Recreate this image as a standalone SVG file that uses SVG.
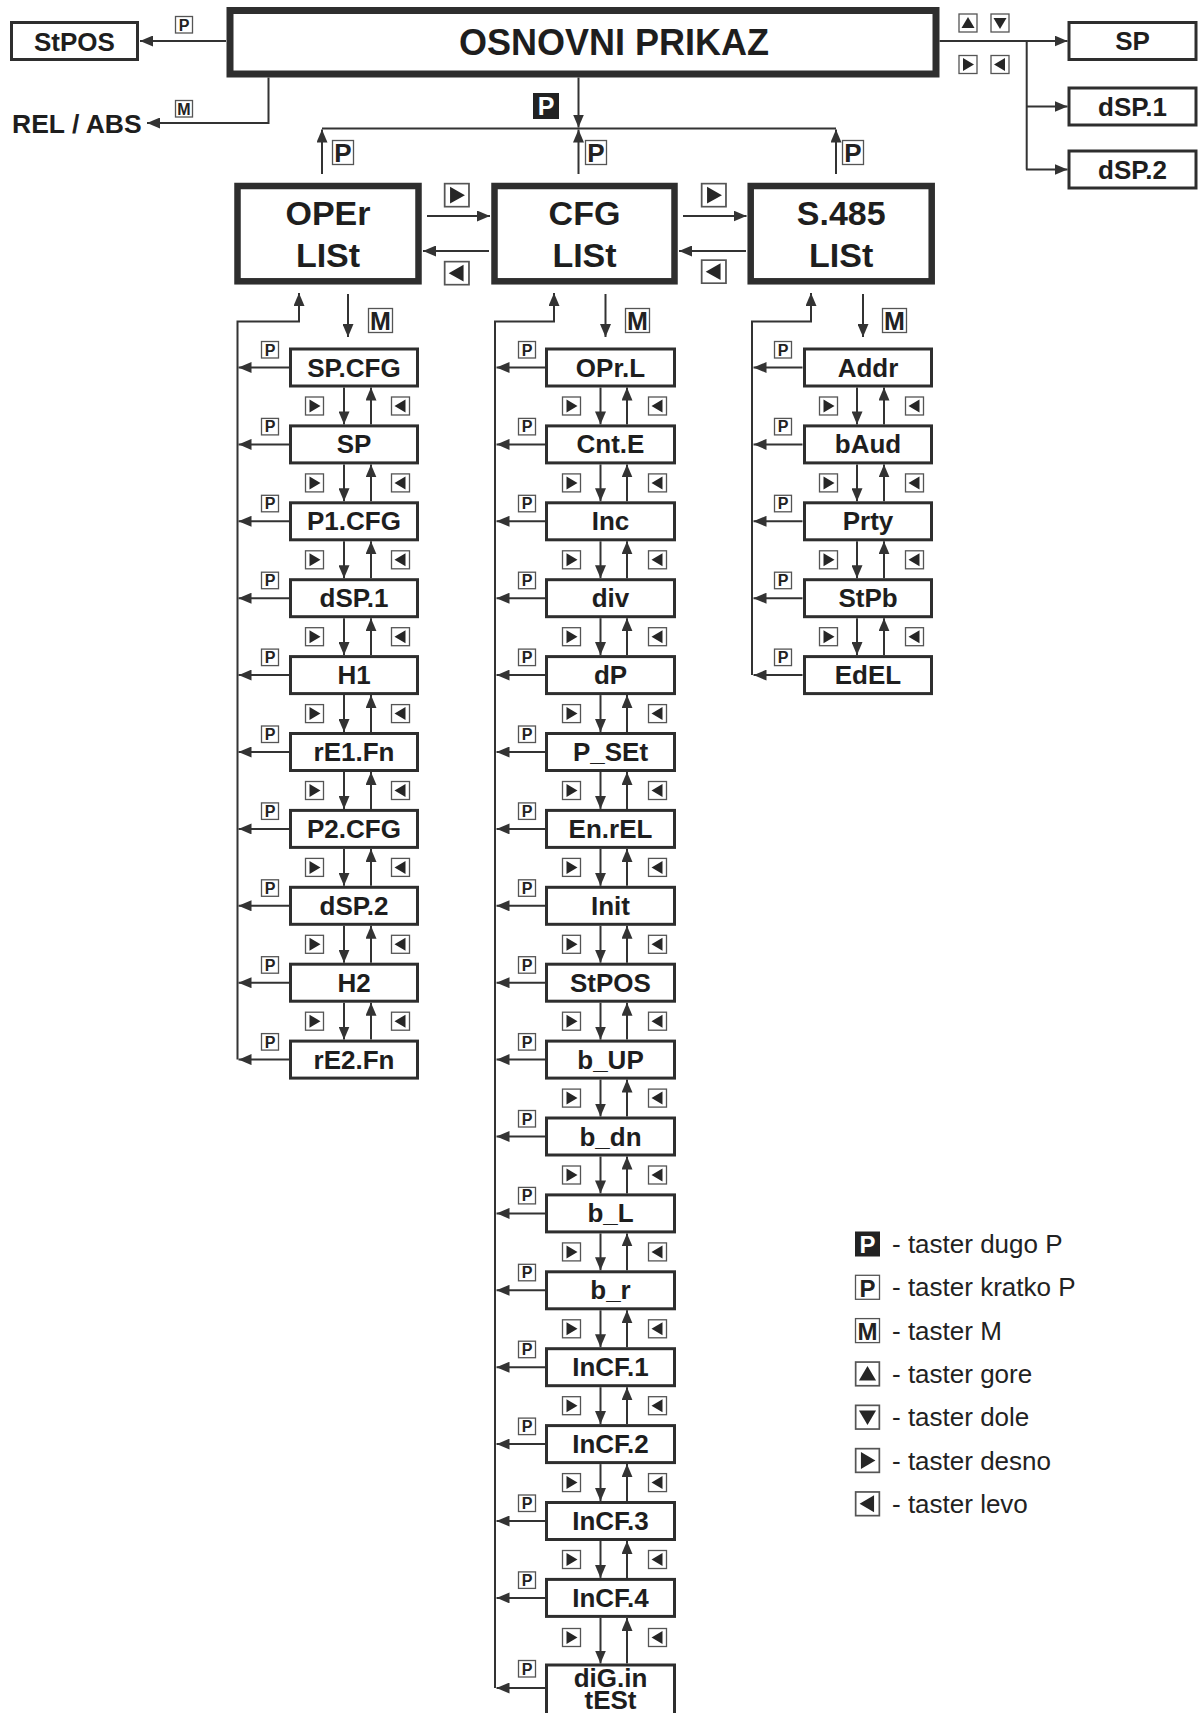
<svg xmlns="http://www.w3.org/2000/svg" width="1198" height="1713" viewBox="0 0 1198 1713">
<style>
.c{fill:none;stroke:#333;stroke-width:2;marker-end:url(#ah)}
.l{fill:none;stroke:#333;stroke-width:2}
.bx{fill:#fff;stroke:#2e2e2e;stroke-width:3}
.bl{fill:#fff;stroke:#2e2e2e;stroke-width:6.5}
.it{font-family:"Liberation Sans",Arial,sans-serif;font-weight:bold;font-size:26px;fill:#1e1e1e;text-anchor:middle}
.big{font-family:"Liberation Sans",Arial,sans-serif;font-weight:bold;font-size:34px;fill:#1e1e1e;text-anchor:middle}
.lg{font-family:"Liberation Sans",Arial,sans-serif;font-size:26px;fill:#222}
.ib{fill:#fff;stroke:#555;stroke-width:1.3}
.tr{fill:#262626}
.kt{font-family:"Liberation Sans",Arial,sans-serif;font-weight:bold;fill:#222;text-anchor:middle}
</style>
<defs>
<marker id="ah" viewBox="0 0 13 11" refX="13" refY="5.5" markerWidth="13" markerHeight="11" markerUnits="userSpaceOnUse" orient="auto"><path d="M0,0 L13,5.5 L0,11 Z" fill="#333"/></marker>
<g id="ir"><rect x="0.5" y="0.5" width="18" height="18" class="ib"/><path d="M4.5,3 L15.5,9.5 L4.5,16 Z" class="tr"/></g>
<g id="il"><rect x="0.5" y="0.5" width="18" height="18" class="ib"/><path d="M14.5,3 L3.5,9.5 L14.5,16 Z" class="tr"/></g>
<g id="iu"><rect x="0.5" y="0.5" width="18" height="18" class="ib"/><path d="M3,14.5 L9.5,3.5 L16,14.5 Z" class="tr"/></g>
<g id="idn"><rect x="0.5" y="0.5" width="18" height="18" class="ib"/><path d="M3,4.5 L9.5,15.5 L16,4.5 Z" class="tr"/></g>
<g id="ps"><rect x="0.5" y="0.5" width="17" height="16.5" class="ib"/><text x="9" y="14.5" class="kt" font-size="16">P</text></g>
<g id="ms"><rect x="0.5" y="0.5" width="17" height="16.5" class="ib"/><text x="9" y="14.5" class="kt" font-size="16">M</text></g>
<g id="pl"><rect x="0.5" y="0.5" width="21" height="24" class="ib"/><text x="11" y="21.5" class="kt" font-size="26">P</text></g>
<g id="mb"><rect x="0.5" y="0.5" width="24" height="24" class="ib"/><text x="12.5" y="21.5" class="kt" font-size="25">M</text></g>
</defs>
<rect width="1198" height="1713" fill="#fff"/>

<!-- top nodes -->
<g id="n-osnovni"><rect x="230" y="10.5" width="706" height="63.5" fill="#fff" stroke="#2e2e2e" stroke-width="7"/><text x="459" y="54.5" font-family="Liberation Sans, Arial, sans-serif" font-weight="bold" font-size="36" fill="#1e1e1e">OSNOVNI PRIKAZ</text></g>
<g id="n-stpos-top"><rect x="11.5" y="22.5" width="126" height="37" class="bx"/><text x="74.5" y="50.5" class="it">StPOS</text></g>
<g id="n-relabs"><text x="12" y="133" font-family="Liberation Sans, Arial, sans-serif" font-weight="bold" font-size="26.5" fill="#1e1e1e">REL / ABS</text></g>
<g id="n-sp-top"><rect x="1069" y="22.5" width="127" height="37" class="bx"/><text x="1132.5" y="50" class="it" font-size="25">SP</text></g>
<g id="n-dsp1-top"><rect x="1069" y="88" width="127" height="37" class="bx"/><text x="1132.5" y="115.5" class="it" font-size="25">dSP.1</text></g>
<g id="n-dsp2-top"><rect x="1069" y="151" width="127" height="37" class="bx"/><text x="1132.5" y="178.5" class="it" font-size="25">dSP.2</text></g>

<!-- list nodes -->
<g id="n-oper"><rect x="237.5" y="186" width="181" height="95.3" class="bl"/><text x="328" y="225" class="big">OPEr</text><text x="328" y="267" class="big">LISt</text></g>
<g id="n-cfg"><rect x="494.5" y="186" width="180" height="95.3" class="bl"/><text x="584.5" y="225" class="big">CFG</text><text x="584.5" y="267" class="big">LISt</text></g>
<g id="n-s485"><rect x="750.7" y="186" width="181" height="95.3" class="bl"/><text x="841.2" y="225" class="big">S.485</text><text x="841.2" y="267" class="big">LISt</text></g>

<!-- column A -->
<g id="n-a0"><rect x="290.5" y="349" width="127" height="37" class="bx"/><text x="354" y="376.5" class="it">SP.CFG</text></g>
<g id="n-a1"><rect x="290.5" y="425.9" width="127" height="37" class="bx"/><text x="354" y="453.4" class="it">SP</text></g>
<g id="n-a2"><rect x="290.5" y="502.8" width="127" height="37" class="bx"/><text x="354" y="530.3" class="it">P1.CFG</text></g>
<g id="n-a3"><rect x="290.5" y="579.7" width="127" height="37" class="bx"/><text x="354" y="607.2" class="it">dSP.1</text></g>
<g id="n-a4"><rect x="290.5" y="656.6" width="127" height="37" class="bx"/><text x="354" y="684.1" class="it">H1</text></g>
<g id="n-a5"><rect x="290.5" y="733.5" width="127" height="37" class="bx"/><text x="354" y="761" class="it">rE1.Fn</text></g>
<g id="n-a6"><rect x="290.5" y="810.4" width="127" height="37" class="bx"/><text x="354" y="837.9" class="it">P2.CFG</text></g>
<g id="n-a7"><rect x="290.5" y="887.3" width="127" height="37" class="bx"/><text x="354" y="914.8" class="it">dSP.2</text></g>
<g id="n-a8"><rect x="290.5" y="964.2" width="127" height="37" class="bx"/><text x="354" y="991.7" class="it">H2</text></g>
<g id="n-a9"><rect x="290.5" y="1041.1" width="127" height="37" class="bx"/><text x="354" y="1068.6" class="it">rE2.Fn</text></g>

<!-- column B -->
<g id="n-b0"><rect x="546.5" y="349" width="128" height="37" class="bx"/><text x="610.5" y="376.5" class="it">OPr.L</text></g>
<g id="n-b1"><rect x="546.5" y="425.9" width="128" height="37" class="bx"/><text x="610.5" y="453.4" class="it">Cnt.E</text></g>
<g id="n-b2"><rect x="546.5" y="502.8" width="128" height="37" class="bx"/><text x="610.5" y="530.3" class="it">Inc</text></g>
<g id="n-b3"><rect x="546.5" y="579.7" width="128" height="37" class="bx"/><text x="610.5" y="607.2" class="it">div</text></g>
<g id="n-b4"><rect x="546.5" y="656.6" width="128" height="37" class="bx"/><text x="610.5" y="684.1" class="it">dP</text></g>
<g id="n-b5"><rect x="546.5" y="733.5" width="128" height="37" class="bx"/><text x="610.5" y="761" class="it">P_SEt</text></g>
<g id="n-b6"><rect x="546.5" y="810.4" width="128" height="37" class="bx"/><text x="610.5" y="837.9" class="it">En.rEL</text></g>
<g id="n-b7"><rect x="546.5" y="887.3" width="128" height="37" class="bx"/><text x="610.5" y="914.8" class="it">Init</text></g>
<g id="n-b8"><rect x="546.5" y="964.2" width="128" height="37" class="bx"/><text x="610.5" y="991.7" class="it">StPOS</text></g>
<g id="n-b9"><rect x="546.5" y="1041.1" width="128" height="37" class="bx"/><text x="610.5" y="1068.6" class="it">b_UP</text></g>
<g id="n-b10"><rect x="546.5" y="1118" width="128" height="37" class="bx"/><text x="610.5" y="1145.5" class="it">b_dn</text></g>
<g id="n-b11"><rect x="546.5" y="1194.9" width="128" height="37" class="bx"/><text x="610.5" y="1222.4" class="it">b_L</text></g>
<g id="n-b12"><rect x="546.5" y="1271.8" width="128" height="37" class="bx"/><text x="610.5" y="1299.3" class="it">b_r</text></g>
<g id="n-b13"><rect x="546.5" y="1348.7" width="128" height="37" class="bx"/><text x="610.5" y="1376.2" class="it">InCF.1</text></g>
<g id="n-b14"><rect x="546.5" y="1425.6" width="128" height="37" class="bx"/><text x="610.5" y="1453.1" class="it">InCF.2</text></g>
<g id="n-b15"><rect x="546.5" y="1502.5" width="128" height="37" class="bx"/><text x="610.5" y="1530" class="it">InCF.3</text></g>
<g id="n-b16"><rect x="546.5" y="1579.4" width="128" height="37" class="bx"/><text x="610.5" y="1606.9" class="it">InCF.4</text></g>
<g id="n-b17"><rect x="546.5" y="1665" width="128" height="60" class="bx"/><text x="610.5" y="1687" class="it">diG.in</text><text x="610.5" y="1709" class="it">tESt</text></g>

<!-- column C -->
<g id="n-c0"><rect x="804.5" y="349" width="127" height="37" class="bx"/><text x="868" y="376.5" class="it">Addr</text></g>
<g id="n-c1"><rect x="804.5" y="425.9" width="127" height="37" class="bx"/><text x="868" y="453.4" class="it">bAud</text></g>
<g id="n-c2"><rect x="804.5" y="502.8" width="127" height="37" class="bx"/><text x="868" y="530.3" class="it">Prty</text></g>
<g id="n-c3"><rect x="804.5" y="579.7" width="127" height="37" class="bx"/><text x="868" y="607.2" class="it">StPb</text></g>
<g id="n-c4"><rect x="804.5" y="656.6" width="127" height="37" class="bx"/><text x="868" y="684.1" class="it">EdEL</text></g>

<g id="connectors">
<!-- top -->
<path class="c" d="M226,41 H140"/>
<path class="c" d="M268.5,77.5 V123 H147"/>
<path class="c" d="M578.5,77.5 V127.5"/>
<path class="l" d="M322,128.5 H836"/>
<path class="c" d="M322,174 V129.5"/>
<path class="c" d="M578.5,174 V129.5"/>
<path class="c" d="M836,174 V129.5"/>
<path class="l" d="M939.5,41 H1026.7 V169.5"/>
<path class="c" d="M1026,41 H1067.5"/>
<path class="c" d="M1026,106.5 H1067.5"/>
<path class="c" d="M1026,169.5 H1067.5"/>
<!-- between lists -->
<path class="c" d="M427,216 H490"/>
<path class="c" d="M489,251 H423"/>
<path class="c" d="M683,216 H746.5"/>
<path class="c" d="M746,251 H679"/>
<!-- column A -->
<path class="c" d="M348,294 V337"/>
<path class="c" d="M237.5,1059.6 V321.5 H299 V293"/>
<path class="c" d="M289,367.5 H238.5"/>
<path class="c" d="M289,444.4 H238.5"/>
<path class="c" d="M289,521.3 H238.5"/>
<path class="c" d="M289,598.2 H238.5"/>
<path class="c" d="M289,675.1 H238.5"/>
<path class="c" d="M289,752 H238.5"/>
<path class="c" d="M289,828.9 H238.5"/>
<path class="c" d="M289,905.8 H238.5"/>
<path class="c" d="M289,982.7 H238.5"/>
<path class="c" d="M289,1059.6 H238.5"/>
<path class="c" d="M344,387.5 V424.4"/><path class="c" d="M371,424.4 V387.5"/>
<path class="c" d="M344,464.4 V501.3"/><path class="c" d="M371,501.3 V464.4"/>
<path class="c" d="M344,541.3 V578.2"/><path class="c" d="M371,578.2 V541.3"/>
<path class="c" d="M344,618.2 V655.1"/><path class="c" d="M371,655.1 V618.2"/>
<path class="c" d="M344,695.1 V732"/><path class="c" d="M371,732 V695.1"/>
<path class="c" d="M344,772 V808.9"/><path class="c" d="M371,808.9 V772"/>
<path class="c" d="M344,848.9 V885.8"/><path class="c" d="M371,885.8 V848.9"/>
<path class="c" d="M344,925.8 V962.7"/><path class="c" d="M371,962.7 V925.8"/>
<path class="c" d="M344,1002.7 V1039.6"/><path class="c" d="M371,1039.6 V1002.7"/>
<!-- column B -->
<path class="c" d="M605.5,294 V337"/>
<path class="c" d="M495,1688 V321.5 H554 V293"/>
<path class="c" d="M545,367.5 H496.5"/>
<path class="c" d="M545,444.4 H496.5"/>
<path class="c" d="M545,521.3 H496.5"/>
<path class="c" d="M545,598.2 H496.5"/>
<path class="c" d="M545,675.1 H496.5"/>
<path class="c" d="M545,752 H496.5"/>
<path class="c" d="M545,828.9 H496.5"/>
<path class="c" d="M545,905.8 H496.5"/>
<path class="c" d="M545,982.7 H496.5"/>
<path class="c" d="M545,1059.6 H496.5"/>
<path class="c" d="M545,1136.5 H496.5"/>
<path class="c" d="M545,1213.4 H496.5"/>
<path class="c" d="M545,1290.3 H496.5"/>
<path class="c" d="M545,1367.2 H496.5"/>
<path class="c" d="M545,1444.1 H496.5"/>
<path class="c" d="M545,1521 H496.5"/>
<path class="c" d="M545,1597.9 H496.5"/>
<path class="c" d="M545,1688 H496.5"/>
<path class="c" d="M600.5,387.5 V424.4"/><path class="c" d="M627,424.4 V387.5"/>
<path class="c" d="M600.5,464.4 V501.3"/><path class="c" d="M627,501.3 V464.4"/>
<path class="c" d="M600.5,541.3 V578.2"/><path class="c" d="M627,578.2 V541.3"/>
<path class="c" d="M600.5,618.2 V655.1"/><path class="c" d="M627,655.1 V618.2"/>
<path class="c" d="M600.5,695.1 V732"/><path class="c" d="M627,732 V695.1"/>
<path class="c" d="M600.5,772 V808.9"/><path class="c" d="M627,808.9 V772"/>
<path class="c" d="M600.5,848.9 V885.8"/><path class="c" d="M627,885.8 V848.9"/>
<path class="c" d="M600.5,925.8 V962.7"/><path class="c" d="M627,962.7 V925.8"/>
<path class="c" d="M600.5,1002.7 V1039.6"/><path class="c" d="M627,1039.6 V1002.7"/>
<path class="c" d="M600.5,1079.6 V1116.5"/><path class="c" d="M627,1116.5 V1079.6"/>
<path class="c" d="M600.5,1156.5 V1193.4"/><path class="c" d="M627,1193.4 V1156.5"/>
<path class="c" d="M600.5,1233.4 V1270.3"/><path class="c" d="M627,1270.3 V1233.4"/>
<path class="c" d="M600.5,1310.3 V1347.2"/><path class="c" d="M627,1347.2 V1310.3"/>
<path class="c" d="M600.5,1387.2 V1424.1"/><path class="c" d="M627,1424.1 V1387.2"/>
<path class="c" d="M600.5,1464.1 V1501"/><path class="c" d="M627,1501 V1464.1"/>
<path class="c" d="M600.5,1541 V1577.9"/><path class="c" d="M627,1577.9 V1541"/>
<path class="c" d="M600.5,1617.9 V1663.5"/><path class="c" d="M627,1663.5 V1617.9"/>
<!-- column C -->
<path class="c" d="M863,294 V337"/>
<path class="c" d="M752,675.1 V321.5 H811 V293"/>
<path class="c" d="M802.5,367.5 H753.5"/>
<path class="c" d="M802.5,444.4 H753.5"/>
<path class="c" d="M802.5,521.3 H753.5"/>
<path class="c" d="M802.5,598.2 H753.5"/>
<path class="c" d="M802.5,675.1 H753.5"/>
<path class="c" d="M857,387.5 V424.4"/><path class="c" d="M884,424.4 V387.5"/>
<path class="c" d="M857,464.4 V501.3"/><path class="c" d="M884,501.3 V464.4"/>
<path class="c" d="M857,541.3 V578.2"/><path class="c" d="M884,578.2 V541.3"/>
<path class="c" d="M857,618.2 V655.1"/><path class="c" d="M884,655.1 V618.2"/>
</g>

<g id="key-labels">
<use href="#ps" x="175" y="16"/>
<use href="#ms" x="175" y="100"/>
<rect x="533" y="93" width="26" height="26" fill="#222"/><text x="546" y="115" class="kt" font-size="25" style="fill:#fff">P</text>
<use href="#pl" x="332" y="140"/>
<use href="#pl" x="585" y="140"/>
<use href="#pl" x="842" y="140"/>
<use href="#iu" x="958.5" y="13.5"/>
<use href="#idn" x="990.5" y="13.5"/>
<use href="#ir" x="958.5" y="55"/>
<use href="#il" x="990.5" y="55"/>
<use href="#ir" transform="translate(444,183) scale(1.35,1.28)"/>
<use href="#il" transform="translate(444,261) scale(1.35,1.28)"/>
<use href="#ir" transform="translate(701,183) scale(1.35,1.28)"/>
<use href="#il" transform="translate(701,259.5) scale(1.35,1.28)"/>
<use href="#mb" x="368" y="308"/>
<use href="#mb" x="625" y="308"/>
<use href="#mb" x="882" y="308"/>
<!-- column A P labels -->
<use href="#ps" x="261" y="341"/>
<use href="#ps" x="261" y="417.9"/>
<use href="#ps" x="261" y="494.8"/>
<use href="#ps" x="261" y="571.7"/>
<use href="#ps" x="261" y="648.6"/>
<use href="#ps" x="261" y="725.5"/>
<use href="#ps" x="261" y="802.4"/>
<use href="#ps" x="261" y="879.3"/>
<use href="#ps" x="261" y="956.2"/>
<use href="#ps" x="261" y="1033.1"/>
<!-- column A icons -->
<use href="#ir" x="305" y="396.5"/><use href="#il" x="391" y="396.5"/>
<use href="#ir" x="305" y="473.4"/><use href="#il" x="391" y="473.4"/>
<use href="#ir" x="305" y="550.3"/><use href="#il" x="391" y="550.3"/>
<use href="#ir" x="305" y="627.2"/><use href="#il" x="391" y="627.2"/>
<use href="#ir" x="305" y="704.1"/><use href="#il" x="391" y="704.1"/>
<use href="#ir" x="305" y="781"/><use href="#il" x="391" y="781"/>
<use href="#ir" x="305" y="857.9"/><use href="#il" x="391" y="857.9"/>
<use href="#ir" x="305" y="934.8"/><use href="#il" x="391" y="934.8"/>
<use href="#ir" x="305" y="1011.7"/><use href="#il" x="391" y="1011.7"/>
<!-- column B P labels -->
<use href="#ps" x="518" y="341"/>
<use href="#ps" x="518" y="417.9"/>
<use href="#ps" x="518" y="494.8"/>
<use href="#ps" x="518" y="571.7"/>
<use href="#ps" x="518" y="648.6"/>
<use href="#ps" x="518" y="725.5"/>
<use href="#ps" x="518" y="802.4"/>
<use href="#ps" x="518" y="879.3"/>
<use href="#ps" x="518" y="956.2"/>
<use href="#ps" x="518" y="1033.1"/>
<use href="#ps" x="518" y="1110"/>
<use href="#ps" x="518" y="1186.9"/>
<use href="#ps" x="518" y="1263.8"/>
<use href="#ps" x="518" y="1340.7"/>
<use href="#ps" x="518" y="1417.6"/>
<use href="#ps" x="518" y="1494.5"/>
<use href="#ps" x="518" y="1571.4"/>
<use href="#ps" x="518" y="1660"/>
<!-- column B icons -->
<use href="#ir" x="562" y="396.5"/><use href="#il" x="648" y="396.5"/>
<use href="#ir" x="562" y="473.4"/><use href="#il" x="648" y="473.4"/>
<use href="#ir" x="562" y="550.3"/><use href="#il" x="648" y="550.3"/>
<use href="#ir" x="562" y="627.2"/><use href="#il" x="648" y="627.2"/>
<use href="#ir" x="562" y="704.1"/><use href="#il" x="648" y="704.1"/>
<use href="#ir" x="562" y="781"/><use href="#il" x="648" y="781"/>
<use href="#ir" x="562" y="857.9"/><use href="#il" x="648" y="857.9"/>
<use href="#ir" x="562" y="934.8"/><use href="#il" x="648" y="934.8"/>
<use href="#ir" x="562" y="1011.7"/><use href="#il" x="648" y="1011.7"/>
<use href="#ir" x="562" y="1088.6"/><use href="#il" x="648" y="1088.6"/>
<use href="#ir" x="562" y="1165.5"/><use href="#il" x="648" y="1165.5"/>
<use href="#ir" x="562" y="1242.4"/><use href="#il" x="648" y="1242.4"/>
<use href="#ir" x="562" y="1319.3"/><use href="#il" x="648" y="1319.3"/>
<use href="#ir" x="562" y="1396.2"/><use href="#il" x="648" y="1396.2"/>
<use href="#ir" x="562" y="1473.1"/><use href="#il" x="648" y="1473.1"/>
<use href="#ir" x="562" y="1550"/><use href="#il" x="648" y="1550"/>
<use href="#ir" x="562" y="1628"/><use href="#il" x="648" y="1628"/>
<!-- column C P labels -->
<use href="#ps" x="774" y="341"/>
<use href="#ps" x="774" y="417.9"/>
<use href="#ps" x="774" y="494.8"/>
<use href="#ps" x="774" y="571.7"/>
<use href="#ps" x="774" y="648.6"/>
<!-- column C icons -->
<use href="#ir" x="819" y="396.5"/><use href="#il" x="905" y="396.5"/>
<use href="#ir" x="819" y="473.4"/><use href="#il" x="905" y="473.4"/>
<use href="#ir" x="819" y="550.3"/><use href="#il" x="905" y="550.3"/>
<use href="#ir" x="819" y="627.2"/><use href="#il" x="905" y="627.2"/>
</g>

<g id="legend">
<rect x="855" y="1231.5" width="25" height="25" fill="#222"/><text x="867.5" y="1253" class="kt" font-size="24" style="fill:#fff">P</text>
<text x="892" y="1253" class="lg">- taster dugo P</text>
<rect x="855.5" y="1275.3" width="24" height="24" class="ib"/><text x="867.5" y="1296.5" class="kt" font-size="24">P</text>
<text x="892" y="1296.3" class="lg">- taster kratko P</text>
<rect x="855.5" y="1318.6" width="24" height="24" class="ib"/><text x="867.5" y="1339.8" class="kt" font-size="24">M</text>
<text x="892" y="1339.6" class="lg">- taster M</text>
<use href="#iu" transform="translate(855,1361.4) scale(1.316)"/>
<text x="892" y="1382.9" class="lg">- taster gore</text>
<use href="#idn" transform="translate(855,1404.7) scale(1.316)"/>
<text x="892" y="1426.2" class="lg">- taster dole</text>
<use href="#ir" transform="translate(855,1448) scale(1.316)"/>
<text x="892" y="1469.5" class="lg">- taster desno</text>
<use href="#il" transform="translate(855,1491.3) scale(1.316)"/>
<text x="892" y="1512.8" class="lg">- taster levo</text>
</g>
</svg>
